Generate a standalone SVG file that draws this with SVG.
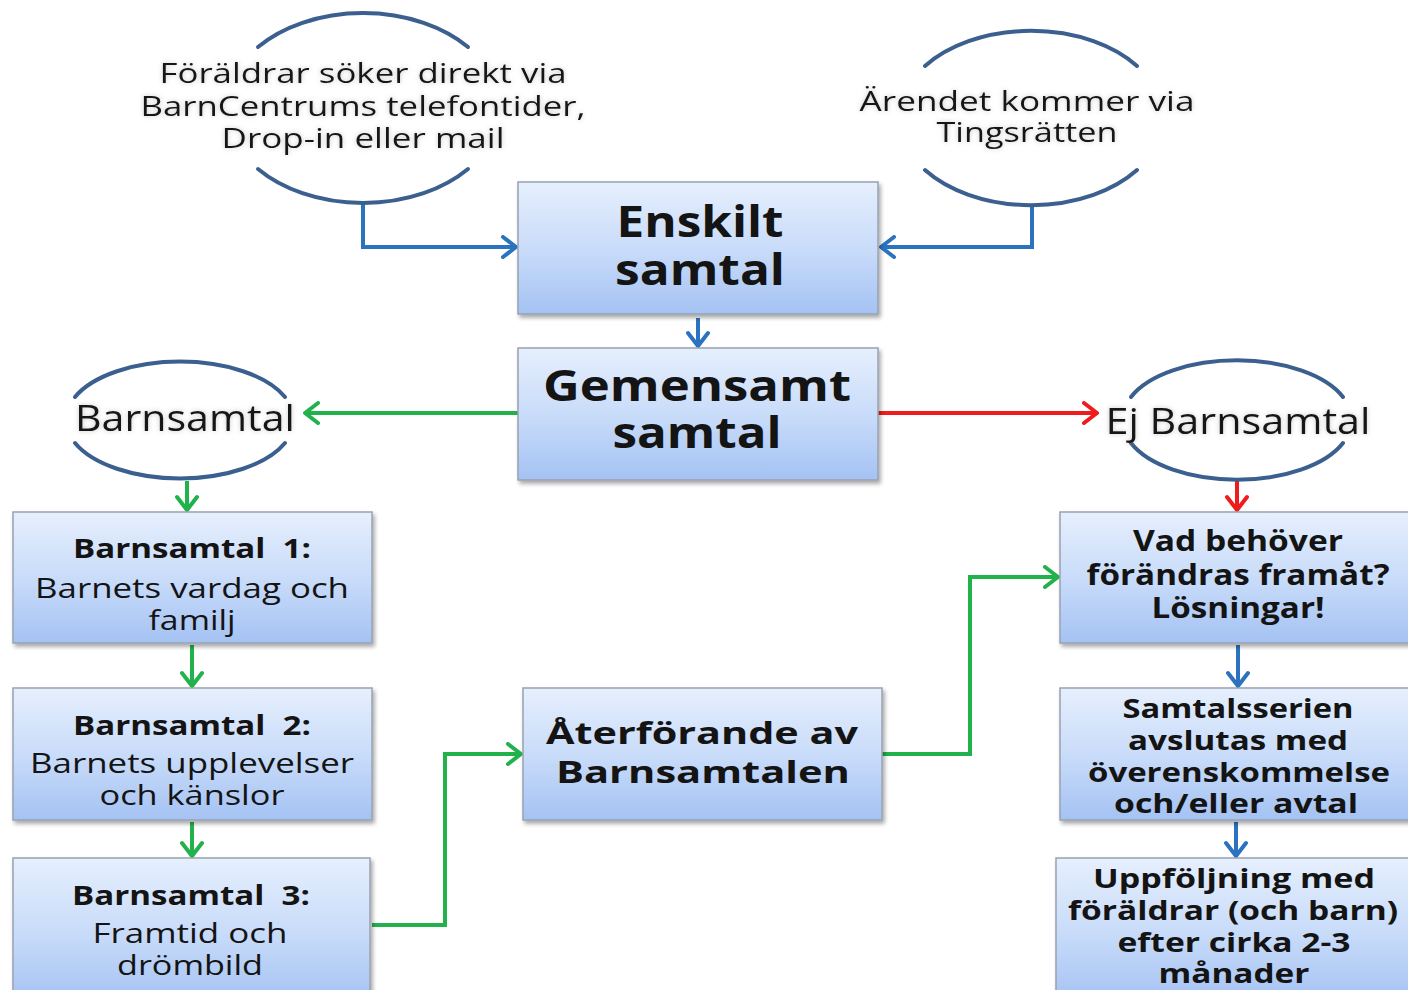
<svg xmlns="http://www.w3.org/2000/svg" width="1408" height="990" viewBox="0 0 1408 990">
<style>
.box{fill:url(#g);stroke:#98a2b0;stroke-width:1.5;filter:url(#sh)}
.arc{fill:none;stroke:#3b5f8e;stroke-width:4;stroke-linecap:round}
.t{font-family:"Open Sans","DejaVu Sans",sans-serif;fill:#141414;text-anchor:middle}
.b{font-weight:bold}
.lbl{filter:url(#glow)}
.cb{fill:none;stroke:#2b72bf;stroke-width:4;marker-end:url(#mb)}
.cg{fill:none;stroke:#22b24c;stroke-width:4;marker-end:url(#mg)}
.cr{fill:none;stroke:#f01c1c;stroke-width:4;marker-end:url(#mr)}
</style>
<defs>
<linearGradient id="g" x1="0" y1="0" x2="0" y2="1">
<stop offset="0" stop-color="#e6effd"/>
<stop offset="0.55" stop-color="#c6daf9"/>
<stop offset="1" stop-color="#a4c2f3"/>
</linearGradient>
<filter id="sh" x="-10%" y="-10%" width="125%" height="130%">
<feGaussianBlur in="SourceAlpha" stdDeviation="2"/>
<feOffset dx="2" dy="3" result="o"/>
<feComponentTransfer><feFuncA type="linear" slope="0.35"/></feComponentTransfer>
<feMerge><feMergeNode/><feMergeNode in="SourceGraphic"/></feMerge>
</filter>
<filter id="glow" x="-10%" y="-30%" width="120%" height="160%">
<feGaussianBlur in="SourceAlpha" stdDeviation="2.5" result="bl"/>
<feFlood flood-color="#808080" flood-opacity="0.45"/>
<feComposite in2="bl" operator="in"/>
<feMerge><feMergeNode/><feMergeNode in="SourceGraphic"/></feMerge>
</filter>
<marker id="mb" viewBox="0 0 20 24" refX="17" refY="12" markerWidth="20" markerHeight="24" markerUnits="userSpaceOnUse" orient="auto"><path d="M4,2 L17,12 L4,22" fill="none" stroke="#2b72bf" stroke-width="4" stroke-linecap="round" stroke-linejoin="round"/></marker>
<marker id="mg" viewBox="0 0 20 24" refX="17" refY="12" markerWidth="20" markerHeight="24" markerUnits="userSpaceOnUse" orient="auto"><path d="M4,2 L17,12 L4,22" fill="none" stroke="#22b24c" stroke-width="4" stroke-linecap="round" stroke-linejoin="round"/></marker>
<marker id="mr" viewBox="0 0 20 24" refX="17" refY="12" markerWidth="20" markerHeight="24" markerUnits="userSpaceOnUse" orient="auto"><path d="M4,2 L17,12 L4,22" fill="none" stroke="#f01c1c" stroke-width="4" stroke-linecap="round" stroke-linejoin="round"/></marker>
</defs>
<rect width="1408" height="990" fill="#ffffff"/>

<g id="connectors">
<path class="cb" d="M363,203 V247 H516"/>
<path class="cb" d="M1032,205 V247 H881"/>
<path class="cb" d="M698,318 V346"/>
<path class="cg" d="M518,413 H305"/>
<path class="cr" d="M878,413 H1097"/>
<path class="cg" d="M187,481 V510"/>
<path class="cr" d="M1237,481 V510"/>
<path class="cg" d="M192,645 V686"/>
<path class="cg" d="M192,822 V856"/>
<path class="cg" d="M372,925 H445 V754 H521"/>
<path class="cg" d="M882,754 H970 V577 H1058"/>
<path class="cb" d="M1238,645 V686"/>
<path class="cb" d="M1236,822 V856"/>
</g>

<g id="n-foraldrar">
<path class="arc" d="M258,47 A137,95 0 0 1 468,47"/>
<path class="arc" d="M258,169 A137,95 0 0 0 468,169"/>
<g class="lbl">
<text class="t" x="363" y="83" font-size="28" textLength="407" lengthAdjust="spacingAndGlyphs">Föräldrar söker direkt via</text>
<text class="t" x="363" y="116" font-size="28" textLength="445" lengthAdjust="spacingAndGlyphs">BarnCentrums telefontider,</text>
<text class="t" x="363" y="148" font-size="28" textLength="283" lengthAdjust="spacingAndGlyphs">Drop-in eller mail</text>
</g>
</g>

<g id="n-tingsratten">
<path class="arc" d="M925,66 A132,87 0 0 1 1137,66"/>
<path class="arc" d="M925,170 A132,87 0 0 0 1137,170"/>
<g class="lbl">
<text class="t" x="1027" y="111" font-size="28" textLength="335" lengthAdjust="spacingAndGlyphs">Ärendet kommer via</text>
<text class="t" x="1027" y="142" font-size="28" textLength="181" lengthAdjust="spacingAndGlyphs">Tingsrätten</text>
</g>
</g>

<g id="n-enskilt">
<rect class="box" x="518" y="182" width="360" height="132"/>
<text class="t b" x="700" y="237" font-size="43" textLength="167" lengthAdjust="spacingAndGlyphs">Enskilt</text>
<text class="t b" x="700" y="285" font-size="43" textLength="170" lengthAdjust="spacingAndGlyphs">samtal</text>
</g>

<g id="n-gemensamt">
<rect class="box" x="518" y="348" width="360" height="132"/>
<text class="t b" x="697" y="401" font-size="43" textLength="308" lengthAdjust="spacingAndGlyphs">Gemensamt</text>
<text class="t b" x="697" y="448" font-size="43" textLength="169" lengthAdjust="spacingAndGlyphs">samtal</text>
</g>

<g id="n-barnsamtal">
<path class="arc" d="M75,397 A114,58 0 0 1 285,397"/>
<path class="arc" d="M75,443 A114,58 0 0 0 285,443"/>
<text class="t lbl" x="185" y="431" font-size="37" textLength="220" lengthAdjust="spacingAndGlyphs">Barnsamtal</text>
</g>

<g id="n-ej-barnsamtal">
<path class="arc" d="M1131,397 A114,58 0 0 1 1343,397"/>
<path class="arc" d="M1131,443 A114,58 0 0 0 1343,443"/>
<text class="t lbl" x="1238" y="434" font-size="37" textLength="265" lengthAdjust="spacingAndGlyphs">Ej Barnsamtal</text>
</g>

<g id="n-bs1">
<rect class="box" x="13" y="512" width="359" height="131"/>
<text class="t b" x="192" y="558" font-size="26" textLength="238" lengthAdjust="spacingAndGlyphs" xml:space="preserve">Barnsamtal  1:</text>
<text class="t" x="192" y="598" font-size="27" textLength="314" lengthAdjust="spacingAndGlyphs">Barnets vardag och</text>
<text class="t" x="192" y="630" font-size="27" textLength="87" lengthAdjust="spacingAndGlyphs">familj</text>
</g>

<g id="n-bs2">
<rect class="box" x="13" y="688" width="359" height="132"/>
<text class="t b" x="192" y="735" font-size="26" textLength="238" lengthAdjust="spacingAndGlyphs" xml:space="preserve">Barnsamtal  2:</text>
<text class="t" x="192" y="773" font-size="27" textLength="324" lengthAdjust="spacingAndGlyphs">Barnets upplevelser</text>
<text class="t" x="192" y="805" font-size="27" textLength="185" lengthAdjust="spacingAndGlyphs">och känslor</text>
</g>

<g id="n-bs3">
<rect class="box" x="13" y="858" width="357" height="145"/>
<text class="t b" x="191" y="905" font-size="26" textLength="238" lengthAdjust="spacingAndGlyphs" xml:space="preserve">Barnsamtal  3:</text>
<text class="t" x="190" y="943" font-size="27" textLength="195" lengthAdjust="spacingAndGlyphs">Framtid och</text>
<text class="t" x="190" y="975" font-size="27" textLength="146" lengthAdjust="spacingAndGlyphs">drömbild</text>
</g>

<g id="n-aterforande">
<rect class="box" x="523" y="688" width="359" height="132"/>
<text class="t b" x="702" y="744" font-size="31" textLength="312" lengthAdjust="spacingAndGlyphs">Återförande av</text>
<text class="t b" x="703" y="783" font-size="31" textLength="294" lengthAdjust="spacingAndGlyphs">Barnsamtalen</text>
</g>

<g id="n-vad">
<rect class="box" x="1060" y="512" width="360" height="131"/>
<text class="t b" x="1238" y="551" font-size="28" textLength="210" lengthAdjust="spacingAndGlyphs">Vad behöver</text>
<text class="t b" x="1238" y="585" font-size="28" textLength="303" lengthAdjust="spacingAndGlyphs">förändras framåt?</text>
<text class="t b" x="1238" y="618" font-size="28" textLength="173" lengthAdjust="spacingAndGlyphs">Lösningar!</text>
</g>

<g id="n-samtalsserien">
<rect class="box" x="1060" y="688" width="360" height="132"/>
<text class="t b" x="1238" y="718" font-size="27" textLength="231" lengthAdjust="spacingAndGlyphs">Samtalsserien</text>
<text class="t b" x="1238" y="750" font-size="27" textLength="220" lengthAdjust="spacingAndGlyphs">avslutas med</text>
<text class="t b" x="1239" y="782" font-size="27" textLength="302" lengthAdjust="spacingAndGlyphs">överenskommelse</text>
<text class="t b" x="1236" y="813" font-size="27" textLength="244" lengthAdjust="spacingAndGlyphs">och/eller avtal</text>
</g>

<g id="n-uppfoljning">
<rect class="box" x="1056" y="858" width="364" height="145"/>
<text class="t b" x="1234" y="888" font-size="27" textLength="282" lengthAdjust="spacingAndGlyphs">Uppföljning med</text>
<text class="t b" x="1233" y="920" font-size="27" textLength="330" lengthAdjust="spacingAndGlyphs">föräldrar (och barn)</text>
<text class="t b" x="1234" y="952" font-size="27" textLength="233" lengthAdjust="spacingAndGlyphs">efter cirka 2-3</text>
<text class="t b" x="1234" y="983" font-size="27" textLength="151" lengthAdjust="spacingAndGlyphs">månader</text>
</g>
</svg>
